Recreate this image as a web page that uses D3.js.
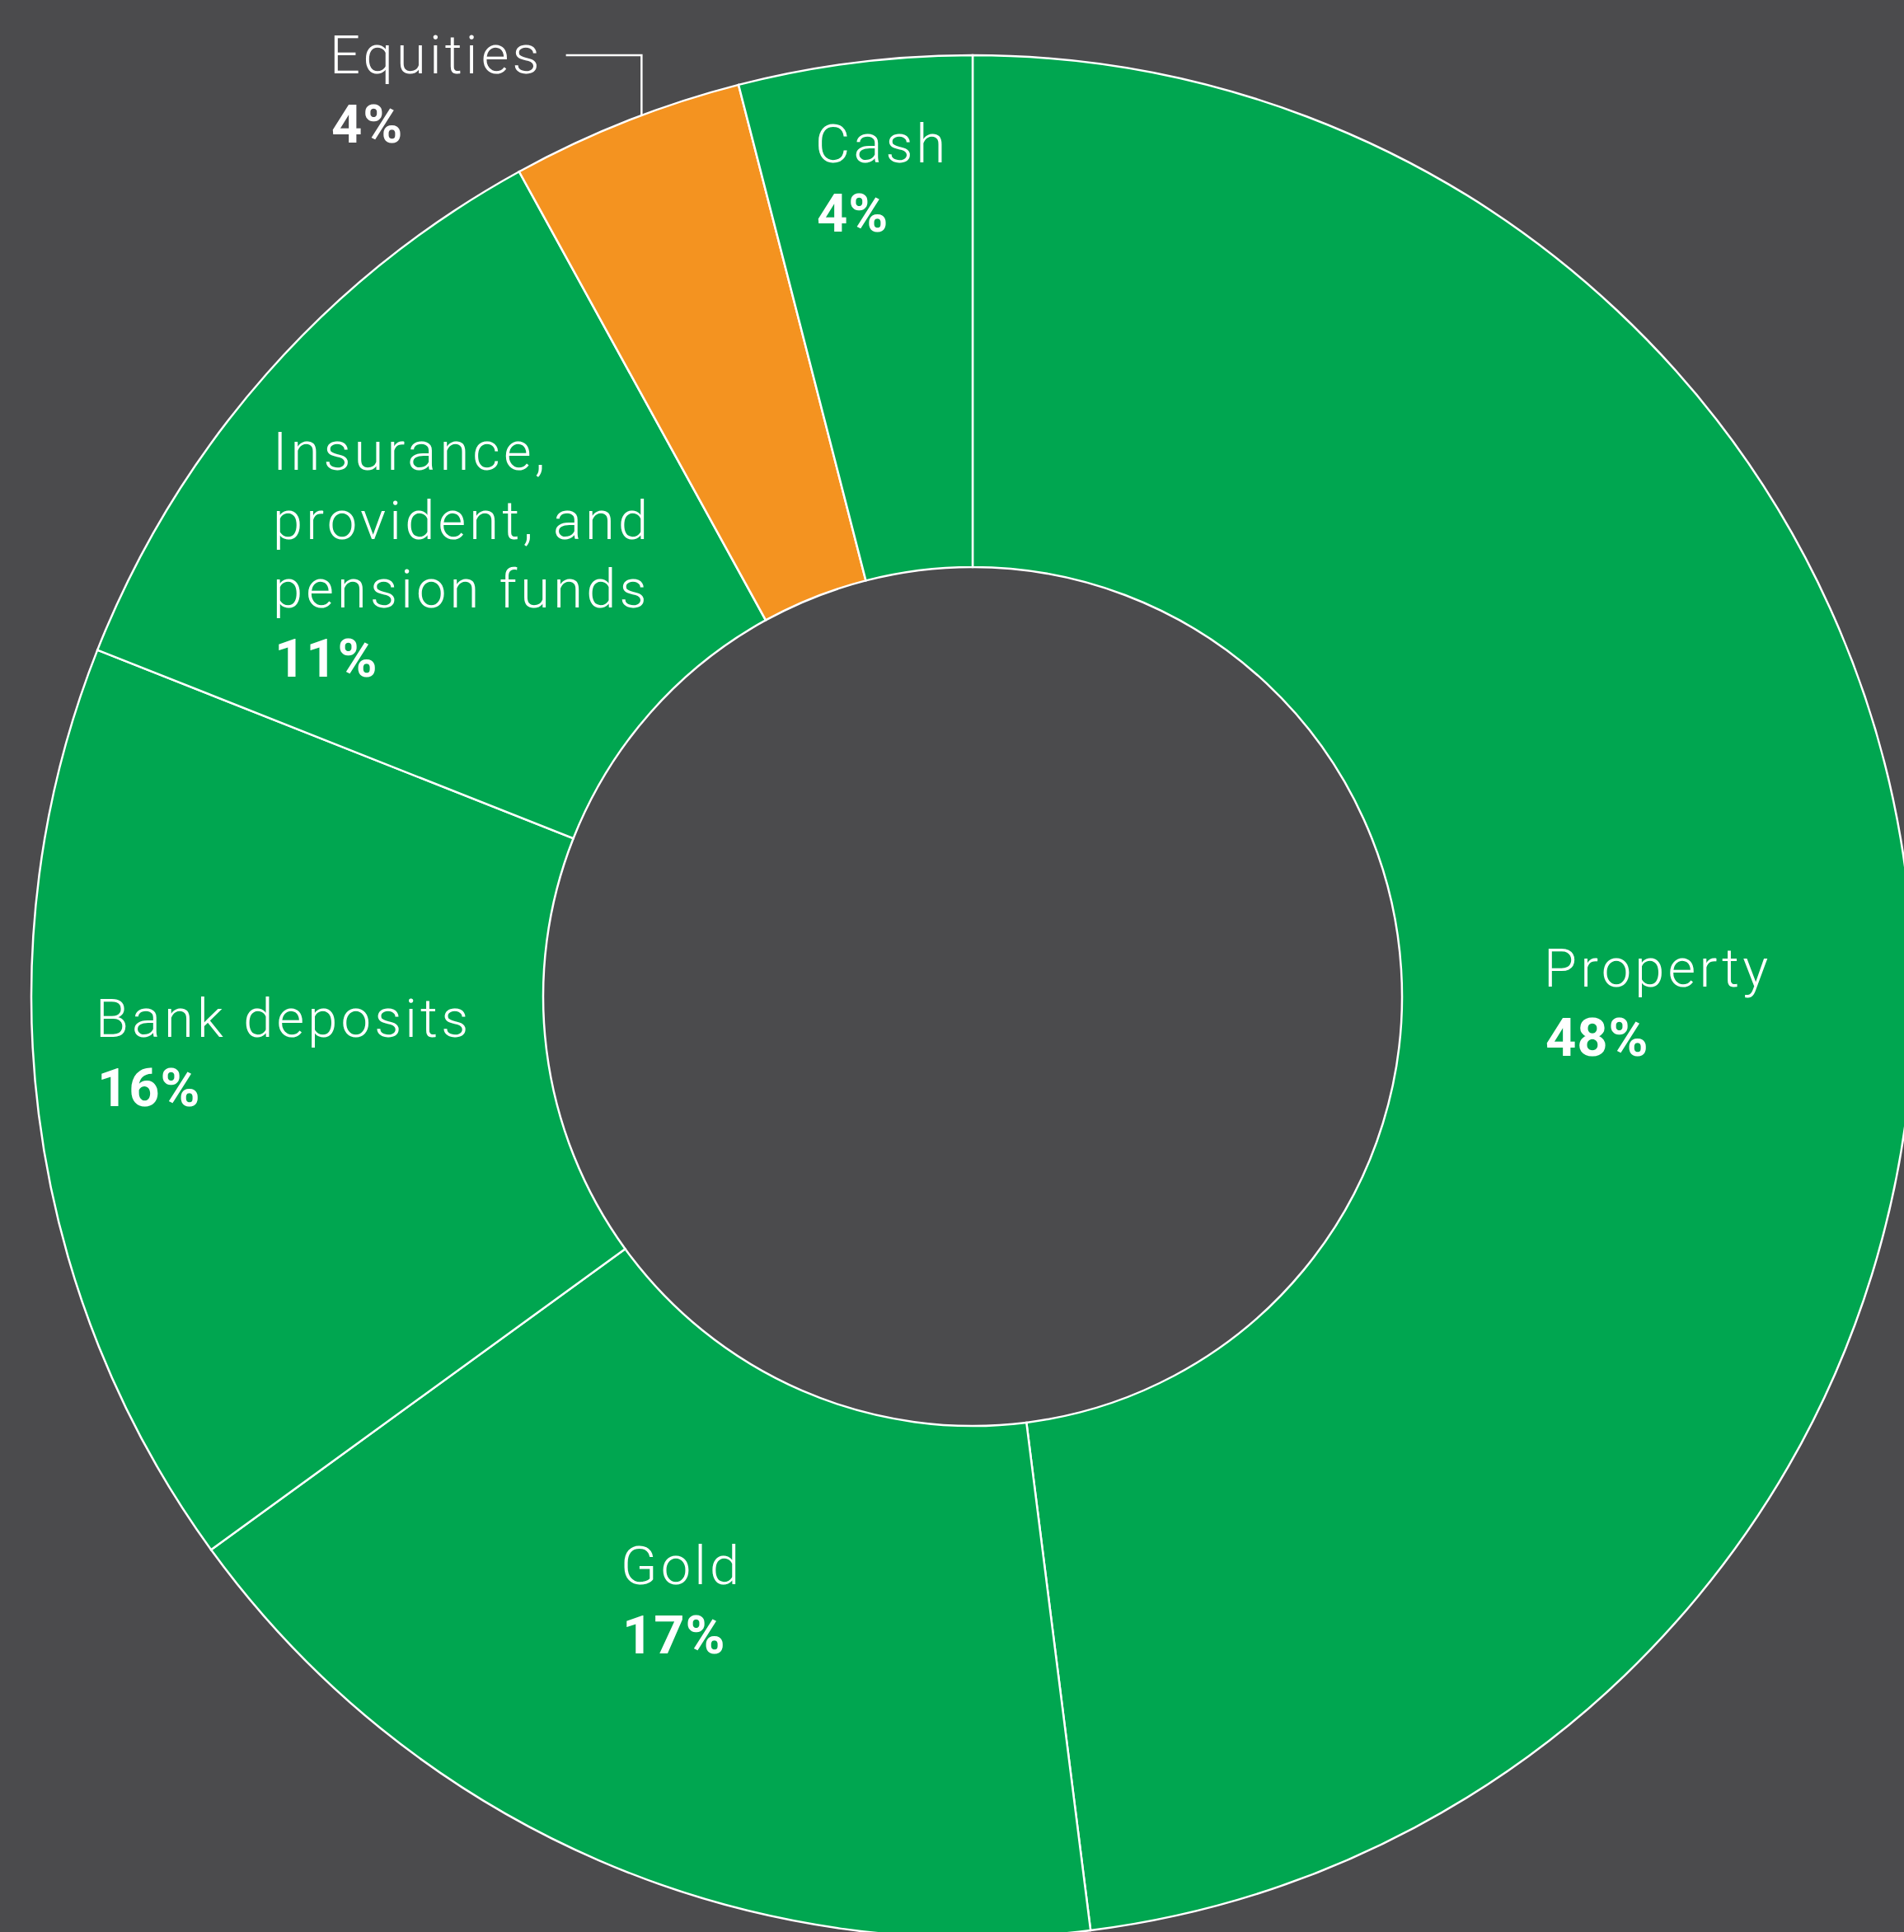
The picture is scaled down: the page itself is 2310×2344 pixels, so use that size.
<!DOCTYPE html>
<html>
<head>
<meta charset="utf-8">
<script src="https://cdn.jsdelivr.net/npm/d3@7"></script>
<style>
  html, body { margin: 0; padding: 0; background: #4b4b4d; }
  svg { display: block; }
  .name { font-family: Roboto, "Open Sans", sans-serif; font-weight: 300; fill: #ffffff; }
  .pct  { font-family: Roboto, "Open Sans", sans-serif; font-weight: 700; fill: #ffffff; }
</style>
</head>
<body>
<svg id="chart"></svg>
<script>
// Household asset allocation, share of total (%), clockwise from 12 o'clock
const categories = ["Property", "Gold", "Bank deposits",
  "Insurance, provident, and pension funds", "Equities", "Cash"];
const shares = [48, 17, 16, 11, 4, 4];
const shareLabels = ["48%", "17%", "16%", "11%", "4%", "4%"];
// label lines as set in the chart
const nameLines = [["Property"], ["Gold"], ["Bank deposits"],
  ["Insurance,", "provident, and", "pension funds"], ["Equities"], ["Cash"]];

const W = 2310, H = 2344;
const cx = 1180, cy = 1209;
const rOuter = 1142, rInner = 521;
const fontSize = 65, lineGap = 83.5;

const palette = { base: "#00a650", highlight: "#f49320" };
const highlighted = "Equities";

// label anchors: left x and first baseline
const labelAt = {
  "Property": [1873, 1197],
  "Gold": [753, 1922],
  "Bank deposits": [116, 1258],
  "Insurance, provident, and pension funds": [331, 570],
  "Equities": [400, 89],
  "Cash": [989, 197]
};

const svg = d3.select("#chart").attr("width", W).attr("height", H);
svg.append("rect").attr("width", W).attr("height", H).attr("fill", "#4b4b4d");

const data = categories.map((c, i) => ({ name: c, value: shares[i], pct: shareLabels[i], lines: nameLines[i] }));

const pie = d3.pie().value(d => d.value).sort(null).startAngle(0).endAngle(2 * Math.PI);
const arc = d3.arc().innerRadius(rInner).outerRadius(rOuter);
const arcs = pie(data);

const g = svg.append("g").attr("transform", `translate(${cx},${cy})`);
g.selectAll("path.slice")
  .data(arcs)
  .join("path")
  .attr("class", "slice")
  .attr("d", arc)
  .attr("fill", d => d.data.name === highlighted ? palette.highlight : palette.base)
  .attr("stroke", "#ffffff")
  .attr("stroke-width", 2.5)
  .attr("stroke-linejoin", "miter");

// labels
const labels = svg.append("g");
arcs.forEach(a => {
  const [x, y0] = labelAt[a.data.name];
  const t = labels.append("text").attr("font-size", fontSize);
  a.data.lines.forEach((ln, k) => {
    t.append("tspan").attr("class", "name").attr("x", x).attr("y", y0 + k * lineGap)
      .attr("letter-spacing", 4.2).text(ln);
  });
  t.append("tspan").attr("class", "pct").attr("x", x + 2)
    .attr("y", y0 + a.data.lines.length * lineGap).attr("letter-spacing", 1).text(a.data.pct);
});

// leader from the outside "Equities" label down to its slice
const eq = arcs.find(a => a.data.name === highlighted);
const eqLabel = labels.selectAll("text").filter(function () {
  return this.textContent.startsWith(highlighted);
}).node();
const nameBox = eqLabel.querySelector("tspan.name").getBBox();
const legX0 = nameBox.x + nameBox.width + 28;
const legY = labelAt[highlighted][1] - 22;
const legX1 = cx + rOuter * Math.sin(eq.startAngle + (eq.endAngle - eq.startAngle) * 0.57);
const legY1 = cy - Math.sqrt(rOuter * rOuter - (legX1 - cx) * (legX1 - cx));
svg.append("path")
  .attr("d", `M${legX0},${legY}H${legX1}V${legY1}`)
  .attr("fill", "none")
  .attr("stroke", "#ffffff")
  .attr("stroke-width", 2.5);
</script>
</body>
</html>
